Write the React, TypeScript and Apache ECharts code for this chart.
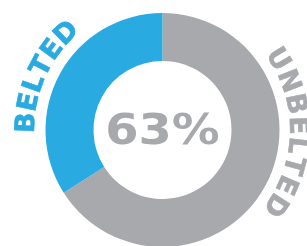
import React, { useEffect, useRef } from "react";
import * as echarts from "echarts";

const categories = ["UNBELTED", "BELTED"];
const values = [66, 34];
const colors = ["#A7A9AC", "#29ABE2"];
const centerLabel = "63%";

export default function App() {
  const ref = useRef<HTMLDivElement>(null);
  useEffect(() => {
    const el = ref.current!;
    const chart = echarts.init(el, null, { renderer: "svg" });
    const cx = 162.5;
    const cy = 130;
    const family = "'DejaVu Sans', sans-serif";
    const fontSize = 27;
    const canvas = document.createElement("canvas");
    const ctx = canvas.getContext("2d")!;
    ctx.font = `bold ${fontSize}px ${family}`;

    function arcText(text: string, midDeg: number, r: number, color: string, spacing: number) {
      const chars = [...text];
      const widths = chars.map((ch) => ctx.measureText(ch).width);
      const total = widths.reduce((a, b) => a + b, 0) + spacing * (chars.length - 1);
      let pos = 0;
      const els: any[] = [];
      chars.forEach((ch, i) => {
        const c = pos + widths[i] / 2;
        pos += widths[i] + spacing;
        const theta = (midDeg * Math.PI) / 180 + (total / 2 - c) / r;
        els.push({
          type: "text",
          x: cx + r * Math.cos(theta),
          y: cy - r * Math.sin(theta),
          rotation: theta - Math.PI / 2,
          silent: true,
          style: {
            text: ch,
            fill: color,
            stroke: color,
            lineWidth: 0.6,
            fontSize,
            fontWeight: "bold",
            fontFamily: family,
            align: "center",
            verticalAlign: "middle",
          },
        });
      });
      return els;
    }

    chart.setOption({
      animation: false,
      series: [
        {
          type: "pie",
          center: [cx, cy],
          radius: [69, 117],
          startAngle: 90,
          clockwise: true,
          silent: true,
          label: { show: false },
          labelLine: { show: false },
          emphasis: { disabled: true },
          data: categories.map((name, i) => ({
            name,
            value: values[i],
            itemStyle: { color: colors[i] },
          })),
        },
      ],
      graphic: [
        {
          type: "text",
          x: cx,
          y: cy,
          scaleX: 1.14,
          silent: true,
          style: {
            text: centerLabel,
            fill: "#A7A9AC",
            fontSize: 42,
            fontWeight: "bold",
            fontFamily: family,
            align: "center",
            verticalAlign: "middle",
          },
        },
        ...arcText(categories[1], 155.7, 138, colors[1], 1.5),
        ...arcText(categories[0], -1, 137, colors[0], 2.5),
      ],
    });
    return () => chart.dispose();
  }, []);
  return (
    <div
      ref={ref}
      style={{ position: "fixed", left: 0, top: 0, width: 307, height: 246 }}
    />
  );
}
